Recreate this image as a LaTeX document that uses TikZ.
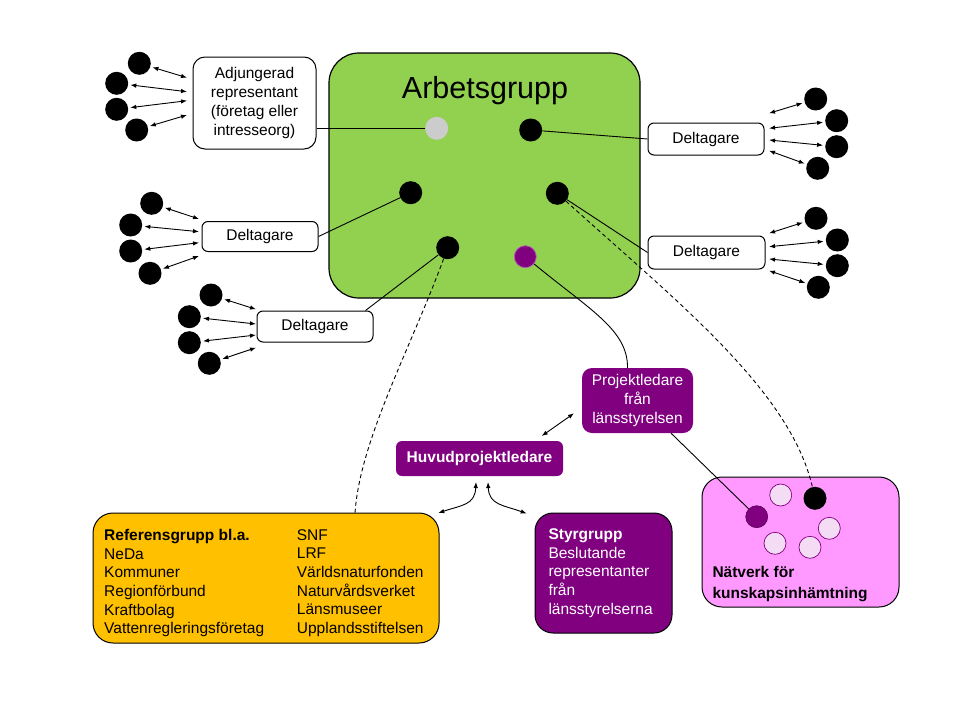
\documentclass[tikz,border=0pt]{standalone}
\usepackage{fontspec}
\setmainfont{Liberation Sans}
\usetikzlibrary{arrows.meta}
\definecolor{grn}{HTML}{92D050}
\definecolor{yel}{HTML}{FFC000}
\definecolor{prp}{HTML}{800080}
\definecolor{pnk}{HTML}{FF99FF}
\definecolor{pnklt}{HTML}{F4DDF4}
\definecolor{gry}{HTML}{CCCCCC}
\definecolor{prplt}{HTML}{B060B0}
\newcommand\txtsz{\fontsize{15.5}{18.7}\selectfont}
\tikzset{
  wbox/.style={draw, line width=1pt, rounded corners=6pt, fill=white, inner sep=0pt, font=\txtsz},
  pbox/.style={fill=prp, rounded corners=9pt, inner sep=0pt, text=white, font=\txtsz},
  dot/.style={circle, fill=black, minimum size=23pt, inner sep=0pt},
  ndot/.style={circle, fill=pnklt, draw=prp, line width=0.7pt, minimum size=22pt, inner sep=0pt},
  dbl/.style={{Latex[length=6pt,width=4.5pt]}-{Latex[length=6pt,width=4.5pt]}, line width=0.9pt},
  conn/.style={line width=0.9pt},
  dconn/.style={line width=0.9pt, dash pattern=on 4pt off 3pt},
  txt/.style={inner sep=0pt, font=\txtsz, align=left, anchor=north west}
}
\begin{document}
\begin{tikzpicture}[x=1pt,y=-1pt]
\useasboundingbox[fill=white] (0,0) rectangle (960,720);

% Arbetsgrupp
\node[draw, line width=1.2pt, fill=grn, rounded corners=30pt, minimum width=311pt, minimum height=245pt] (ag) at (484.5,175.5) {};
\node[anchor=base, inner sep=0pt, font=\fontsize{30.5}{36}\selectfont] (agt) at (485,98.3) {Arbetsgrupp};

\node[dot, fill=gry] (g) at (436.7,128.3) {};
\node[dot] (d2) at (530.7,130) {};
\node[dot] (d3) at (410.7,192.7) {};
\node[dot] (d4) at (557.3,193.3) {};
\node[dot] (d5) at (447.7,247.7) {};
\node[dot, fill=prp, draw=prplt, line width=0.8pt, minimum size=22pt] (dp) at (525.3,256.7) {};

% participant boxes
\node[wbox, rounded corners=12pt, minimum width=123pt, minimum height=92pt, align=center] (adj) at (254.5,103) {Adjungerad\\representant\\(företag eller\\intresseorg)};
\node[wbox, minimum width=116pt, minimum height=30pt] (l1) at (260,236.5) {Deltagare};
\node[wbox, minimum width=116pt, minimum height=31pt] (l2) at (315,326.5) {Deltagare};
\node[wbox, minimum width=116pt, minimum height=32pt] (r1) at (706,139) {Deltagare};
\node[wbox, minimum width=117pt, minimum height=33pt] (r2) at (706.5,252.5) {Deltagare};

% clusters
\foreach \i/\dx/\dy/\ax/\ay in {1/139.3/63.3/187/77.7, 2/116.7/83.3/187/91.7, 3/116.7/109.3/187/100.7, 4/136.7/130/187/115}{
  \node[dot] (ad\i) at (\dx,\dy) {};
  \coordinate (aa\i) at (\ax,\ay);
  \draw[dbl, shorten <=2pt] (ad\i) -- (aa\i);
}
\foreach \i/\dx/\dy/\ax/\ay in {1/151.7/203.3/199/219, 2/130.7/225/199/231.7, 3/130.7/251/199/242.7, 4/150/273.3/199/256}{
  \node[dot] (ld\i) at (\dx,\dy) {};
  \coordinate (la\i) at (\ax,\ay);
  \draw[dbl, shorten <=2pt] (ld\i) -- (la\i);
}
\foreach \i/\dx/\dy/\ax/\ay in {1/211/295/256/309.3, 2/189.3/316.7/256/324, 3/189.3/342.7/256/335, 4/209.3/363.3/256/347.7}{
  \node[dot] (md\i) at (\dx,\dy) {};
  \coordinate (ma\i) at (\ax,\ay);
  \draw[dbl, shorten <=2pt] (md\i) -- (ma\i);
}
\foreach \i/\dx/\dy/\ax/\ay in {1/815.7/99/769/113.3, 2/836.7/120.7/769/128.3, 3/836.7/146.7/769/140, 4/817.7/168.3/769/150.7}{
  \node[dot] (rd\i) at (\dx,\dy) {};
  \coordinate (ra\i) at (\ax,\ay);
  \draw[dbl, shorten <=2pt] (rd\i) -- (ra\i);
}
\foreach \i/\dx/\dy/\ax/\ay in {1/816/218.3/769/233.3, 2/837.3/240/769/246.7, 3/837.3/265.7/769/259, 4/818.3/287.3/769/270.7}{
  \node[dot] (sd\i) at (\dx,\dy) {};
  \coordinate (sa\i) at (\ax,\ay);
  \draw[dbl, shorten <=2pt] (sd\i) -- (sa\i);
}

% lower boxes
\node[pbox, minimum width=111pt, minimum height=65pt, rounded corners=10pt, align=center] (pl) at (637.5,400.5) {Projektledare\\från\\länsstyrelsen};
\node[pbox, minimum width=167pt, minimum height=35pt, rounded corners=6pt, font=\txtsz\bfseries] (hp) at (479.5,458.5) {Huvudprojektledare};

\node[draw, line width=1pt, fill=yel, rounded corners=20pt, minimum width=346pt, minimum height=130pt] (ref) at (266,578) {};
\node[txt] (refl) at (104,529) {\textbf{Referensgrupp bl.a.}\\NeDa\\Kommuner\\Regionförbund\\Kraftbolag\\Vattenregleringsföretag};
\node[txt] (refr) at (296.7,529) {SNF\\LRF\\Världsnaturfonden\\Naturvårdsverket\\Länsmuseer\\Upplandsstiftelsen};

\node[draw=black, line width=1pt, fill=prp, rounded corners=18pt, minimum width=137pt, minimum height=120pt] (sg) at (603.5,573) {};
\node[txt, text=white] (sgt) at (548.3,528.3) {\textbf{Styrgrupp}\\Beslutande\\representanter\\från\\länsstyrelserna};

\node[draw, line width=1pt, fill=pnk, rounded corners=20pt, minimum width=197pt, minimum height=130pt] (nw) at (800.5,542) {};
\node[ndot] (n1) at (780.7,495) {};
\node[dot] (nb) at (815,498.3) {};
\node[dot, fill=prp, draw=prp!70!black, line width=0.6pt, minimum size=22pt] (np) at (756.7,516.7) {};
\node[ndot] (n2) at (829.3,528.3) {};
\node[ndot] (n3) at (775,543.3) {};
\node[ndot] (n4) at (810,547.3) {};
\node[txt, font=\fontsize{15.5}{21}\selectfont\bfseries] (nwt) at (712.3,566.5) {Nätverk för\\kunskapsinhämtning};

% connectors
\draw[conn] (g) -- (g -| adj.east);
\draw[conn] (d2) -- (r1.west);
\draw[conn] (d3) -- (l1.east);
\draw[conn] (d4) -- (r2.west);
\draw[conn] (d5) -- ([xshift=-8pt]l2.north east);
\draw[dconn] (d5) .. controls (410,350) and (360,440) .. (355,513);
\draw[dconn] (d4) .. controls (675,300) and (790,390) .. (nb);
\draw[conn] (dp) .. controls (590,310) and (628,330) .. ([xshift=-10pt]pl.north);
\draw[conn] (pl) -- (np);

\coordinate (hpa) at (541.7,436);
\coordinate (pla) at (574,413.3);
\draw[dbl] (hpa) -- (pla);
\coordinate (hl1) at (476,482);
\coordinate (hl2) at (438.3,513);
\draw[dbl] (hl1) .. controls (475,505) and (462,505) .. (hl2);
\coordinate (hr1) at (488,482);
\coordinate (hr2) at (526.7,513.5);
\draw[dbl] (hr1) .. controls (489,505) and (503,505) .. (hr2);
\end{tikzpicture}
\end{document}
